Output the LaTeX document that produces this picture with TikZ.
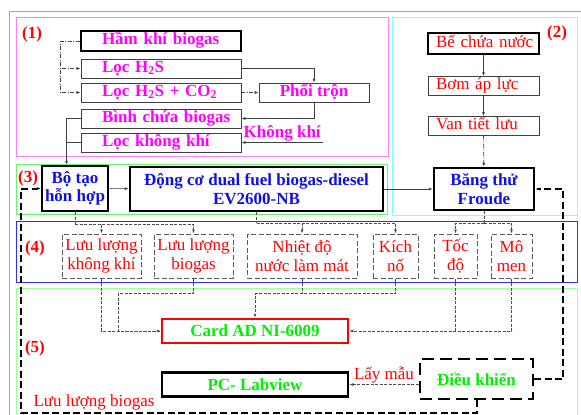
\documentclass[tikz,border=0pt]{standalone}
\usepackage{fontspec}
\setmainfont{Liberation Serif}
\usetikzlibrary{arrows.meta,positioning,calc}
\definecolor{mag}{HTML}{FF00FF}
\definecolor{tblue}{HTML}{1010E8}
\definecolor{lgreen}{HTML}{00F000}
\definecolor{zred}{HTML}{FF8080}
\definecolor{zmag}{HTML}{FF80FF}
\definecolor{zcyan}{HTML}{80FFFF}
\definecolor{zgreen}{HTML}{70F070}
\definecolor{zblue}{HTML}{3030F0}
\definecolor{zlgreen}{HTML}{A0FFA0}
\newcommand{\fs}{\fontsize{17}{18.5}\selectfont}

\begin{document}
\begin{tikzpicture}[
  x=1pt, y=-1pt, >={Latex[length=4pt,width=3pt]},
  zone/.style={line width=0.8pt},
  num/.style={font=\fs\bfseries, text=red, inner sep=0pt},
  mbox/.style={draw=black!75, line width=0.8pt, inner sep=0pt, minimum height=19pt,
    text height=11.5pt, text depth=4pt, font=\fs\bfseries, text=mag},
  mrow/.style={mbox, text width=160pt, align=left, execute at begin node=\hspace*{21pt}},
  wbox/.style={draw=black!75, line width=0.8pt, inner sep=0pt, minimum height=19pt,
    text height=11.5pt, text depth=4pt, text width=111pt, align=left, font=\fs, text=red,
    execute at begin node=\hspace*{8pt}},
  tbox/.style={draw, line width=2.5pt, inner sep=0pt, align=center, font=\fs\bfseries, text=tblue},
  sbox/.style={draw=black!65, line width=1pt, dash pattern=on 5pt off 2.5pt, inner sep=0pt,
    minimum height=44pt, align=center, font=\fs, text=red},
  gbox/.style={draw, line width=2.5pt, inner sep=0pt, minimum width=186pt, minimum height=24pt,
    font=\fs\bfseries, text=lgreen},
  ln/.style={draw=black!75, line width=0.7pt},
  dd/.style={ln, dash pattern=on 4pt off 1.5pt on 1pt off 1.5pt},
  dsh/.style={draw=black!70, line width=0.8pt, dash pattern=on 3pt off 1.5pt},
  ctl/.style={draw=black, line width=2pt, dash pattern=on 7pt off 3.5pt},
  lab/.style={font=\fs, text=red, inner sep=1pt}
]
\clip (0,0) rectangle (581,415);
\fill[white] (0,0) rectangle (581,415);

% zones
\draw[zone, zred] (9,11) rectangle (600,440);
\draw[zone, zmag] (16,17) rectangle (388,156);
\draw[zone, zcyan] (392,17) rectangle (577,215);
\draw[zone, zgreen] (16,164) rectangle (387,214);
\draw[zone, zblue] (16,221) rectangle (577,282);
\draw[zone, zlgreen] (16,288) rectangle (577,430);
\node[num] (n1) at (32,34) {(1)};
\node[num] (n2) at (557,33) {(2)};
\node[num] (n3) at (28,178) {(3)};
\node[num] (n4) at (35,248) {(4)};
\node[num] (n5) at (35,348) {(5)};

% (1) biogas line
\node[mrow, draw=black, line width=2.5pt, minimum height=20pt] (ham) at (161,41) {Hầm khí biogas};
\node[mrow] (h2s) at (161,68.5) {Lọc H\textsubscript{2}S};
\node[mrow] (co2) at (161,92.5) {Lọc H\textsubscript{2}S + CO\textsubscript{2}};
\node[mrow] (binh) at (161,118.5) {Bình chứa biogas};
\node[mrow] (lockk) at (161,142.5) {Lọc không khí};
\node[mbox, minimum width=110pt] (phoi) at (314,92.5) {Phối trộn};
\coordinate (kk) at (323,142.5);

\draw[dd,->] (ham.west) -- ++(-19,0) |- (h2s.west);
\draw[dd,->] (ham.west) -- ++(-19,0) |- (co2.west);
\draw[ln,->] (h2s.east) -| (phoi.north);
\draw[dd,->] (co2.east) -- (phoi.west);
\draw[ln,->] (phoi.south) |- (binh.east);
\draw[ln,->] (kk) -- node[above, font=\fs\bfseries, text=mag, inner sep=1pt]{Không khí} (lockk.east);

% (2) water line
\node[wbox, draw=black, line width=2.5pt, minimum height=21pt] (be) at (483.5,43.5) {Bể chứa nước};
\node[wbox, below=21pt of be] (bom) {Bơm áp lực};
\node[wbox, below=20pt of bom] (van) {Van tiết lưu};
\node[tbox, minimum width=100pt, minimum height=42pt] (bang) at (484,189) {Băng thử\\Froude};

\draw[ln,->] (be) -- (bom);
\draw[ln,->] (bom) -- (van);
\draw[dd,->] (van) -- (bang);

% (3) engine
\node[tbox, minimum width=66pt, minimum height=45pt] (botao) at (75,188.5) {Bộ tạo\\hỗn hợp};
\node[tbox, minimum width=253pt, minimum height=44pt] (dongco) at (256.5,189) {Động cơ dual fuel biogas-diesel\\EV2600-NB};

\draw[ln,->] (binh.west) -- ++(-14,0) coordinate (j1) -- (j1 |- botao.north);
\draw[ln] (lockk.west) -- (lockk.west -| j1);
\draw[ln,->] (botao) -- (dongco);
\draw[ln,->] (dongco) -- (bang);

% (4) sensors
\node[sbox, minimum width=79pt] (llkk) at (101.5,256) {Lưu lượng\\không khí};
\node[sbox, minimum width=79pt] (llbg) at (193.5,256) {Lưu lượng\\biogas};
\node[sbox, minimum width=110pt] (nhiet) at (302,256) {Nhiệt độ\\nước làm mát};
\node[sbox, minimum width=45pt] (kich) at (395.5,256) {Kích\\nổ};
\node[sbox, minimum width=43pt] (toc) at (455.5,256) {Tốc\\độ};
\node[sbox, minimum width=41pt] (momen) at (511.5,256) {Mô\\men};

\draw[dsh] (botao.south) -- ++(0,12) coordinate (a1);
\draw[dsh,->] (a1) -| (llkk.north);
\draw[dsh,->] (a1) -| (llbg.north);
\draw[dsh] (dongco.south) -- ++(0,11) coordinate (a2);
\draw[dsh,->] (a2) -| (nhiet.north);
\draw[dsh,->] (a2) -| (kich.north);
\draw[dsh] (bang.south) -- ++(0,12) coordinate (a3);
\draw[dsh,->] (a3) -| (toc.north);
\draw[dsh,->] (a3) -| (momen.north);

% (5) acquisition and control
\node[gbox, draw=red] (card) at (255,331) {Card AD NI-6009};
\node[gbox, below=27pt of card] (pc) {PC- Labview};
\node[gbox, minimum width=113pt, minimum height=40pt, dash pattern=on 12pt off 6pt] (dk) at (476.5,379) {Điều khiển};

\draw[dsh,->] (llkk.south) |- (card.west);
\draw[dsh] (llbg.south) |- ++(-75.5,15) |- (card.west);
\draw[dsh] (nhiet.south) -- ++(0,15);
\draw[dsh,->] (kich.south) |- ++(-140.5,15) -- (card.north);
\draw[dsh] (toc.south) -- (toc.south |- card.east);
\draw[dsh,->] (momen.south) |- (card.east);

\draw[dsh,->] (dk.west |- pc.east) -- node[lab, above]{Lấy mẫu} (pc.east);
\draw[ctl,->] (dk.east) -- ++(29,0) |- (bang.east);
\draw[ctl,->] (dk.south) -- ++(0,13) -| ($(botao.west)+(-19.5,0)$) -- (botao.west);
\node[lab] (lbg) at (94,402) {Lưu lượng biogas};
\end{tikzpicture}
\end{document}
